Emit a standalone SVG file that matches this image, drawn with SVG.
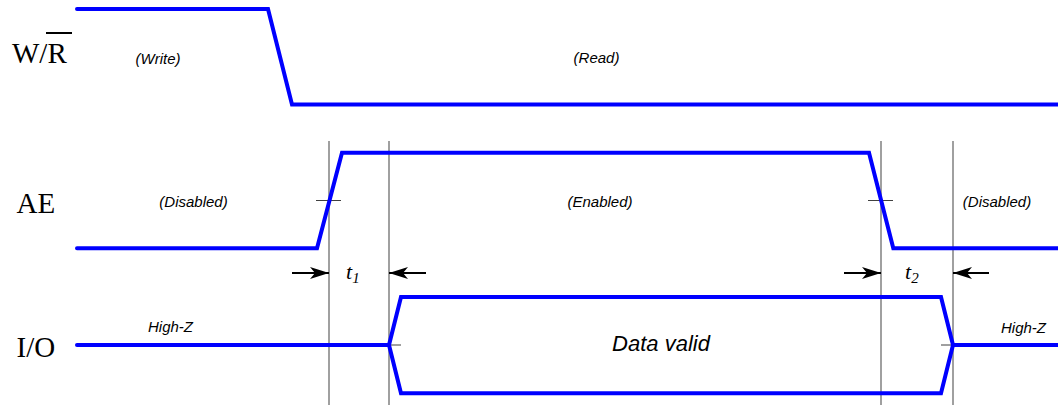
<svg xmlns="http://www.w3.org/2000/svg" width="1058" height="406" viewBox="0 0 1058 406">
<style>
.sig{fill:none;stroke:#0000ff;stroke-width:4;stroke-linecap:round;stroke-linejoin:miter}
.grid{stroke:#808080;stroke-width:1.5}
.tick{stroke:#404040;stroke-width:1}
.arr{stroke:#000;stroke-width:2;marker-end:url(#ah)}
.name{font-family:"Liberation Serif",serif;font-size:29px;fill:#000}
.lbl{font-family:"Liberation Sans",Arial,sans-serif;font-style:italic;font-size:15px;fill:#000;text-anchor:middle}
.big{font-family:"Liberation Sans",Arial,sans-serif;font-style:italic;font-size:22px;fill:#000;text-anchor:middle}
.t{font-family:"Liberation Serif",serif;font-style:italic;font-size:22px;fill:#000}
</style>
<defs>
<marker id="ah" markerUnits="userSpaceOnUse" markerWidth="22" markerHeight="14" refX="19" refY="6" orient="auto">
<path d="M0,0 L19,6 L0,12 L5,6 Z" fill="#000"/>
</marker>
</defs>
<g id="labels">
<text class="name" x="12" y="63">W/R</text>
<line x1="46" y1="33" x2="72" y2="33" stroke="#000" stroke-width="2"/>
<text class="name" x="16.5" y="213">AE</text>
<text class="name" x="16.5" y="357">I/O</text>
</g>
<g id="guides">
<line class="grid" x1="329" y1="141" x2="329" y2="405"/>
<line class="grid" x1="389" y1="141" x2="389" y2="405"/>
<line class="grid" x1="881" y1="141" x2="881" y2="405"/>
<line class="grid" x1="953" y1="141" x2="953" y2="405"/>
<line class="tick" x1="316" y1="200.5" x2="341" y2="200.5"/>
<line class="tick" x1="868" y1="200.5" x2="893" y2="200.5"/>
<line class="tick" x1="377" y1="345" x2="401" y2="345"/>
<line class="tick" x1="941" y1="345" x2="965" y2="345"/>
</g>
<g id="wr">
<path class="sig" d="M77,9 L268,9 L292,104.5 L1062,104.5"/>
<text class="lbl" x="158" y="64">(Write)</text>
<text class="lbl" x="596.5" y="63">(Read)</text>
</g>
<g id="ae">
<path class="sig" d="M77,248.3 L317,248.3 L342,152.7 L869,152.7 L893.3,248.3 L1062,248.3"/>
<text class="lbl" x="193.5" y="206.5">(Disabled)</text>
<text class="lbl" x="600" y="206.5">(Enabled)</text>
<text class="lbl" x="997" y="206.5">(Disabled)</text>
</g>
<g id="io">
<path class="sig" d="M77,345 L389,345"/>
<path class="sig" d="M953,345 L1062,345"/>
<path class="sig" d="M389,345 L401,297 L941,297 L953,345 L941,393.3 L401,393.3 Z"/>
<text class="lbl" x="170.5" y="332">High-Z</text>
<text class="lbl" x="1023.5" y="333">High-Z</text>
<text class="big" x="661" y="351">Data valid</text>
</g>
<g id="connectors">
<line class="arr" x1="292" y1="273" x2="329" y2="273"/>
<line class="arr" x1="426" y1="273" x2="389" y2="273"/>
<line class="arr" x1="844" y1="273" x2="881" y2="273"/>
<line class="arr" x1="989" y1="273" x2="953" y2="273"/>
</g>
<g id="timings">
<text class="t" x="346" y="279">t<tspan font-size="15" dy="4">1</tspan></text>
<text class="t" x="905" y="279">t<tspan font-size="15" dy="4">2</tspan></text>
</g>
</svg>
